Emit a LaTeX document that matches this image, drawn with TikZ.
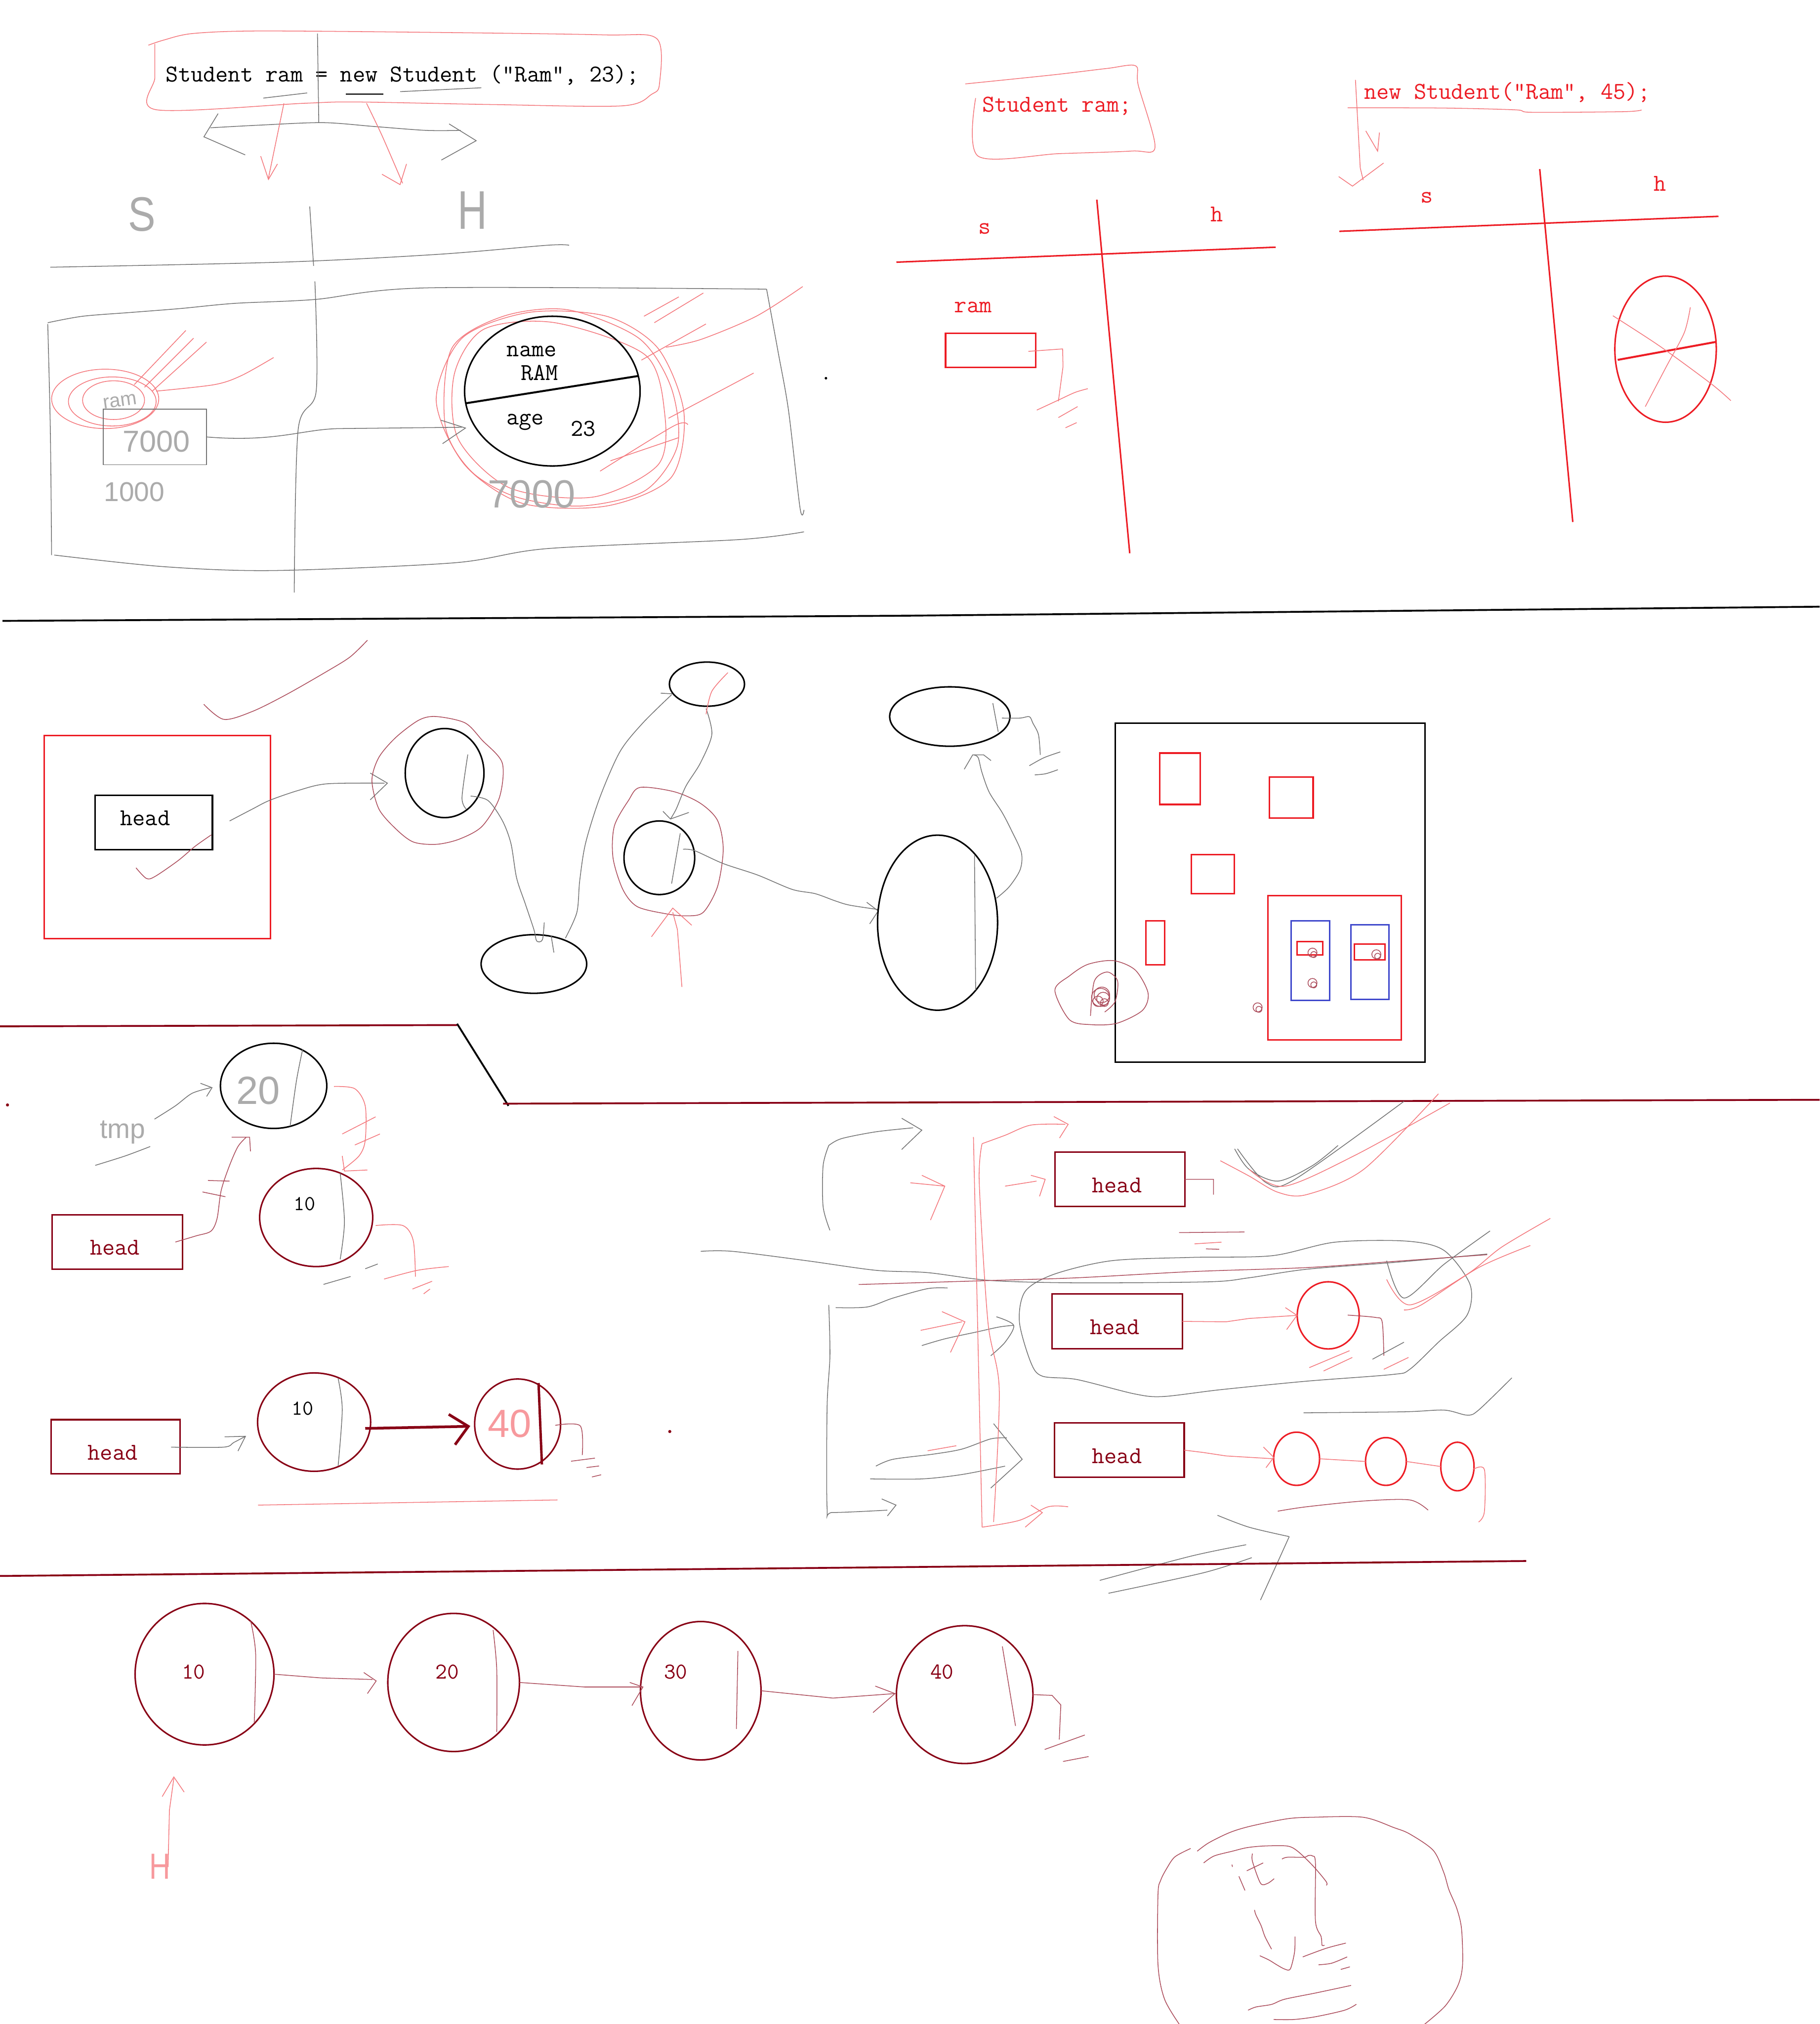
\documentclass[tikz,border=0pt]{standalone}
\usepackage{fontspec}
\setsansfont{Liberation Sans}
\usetikzlibrary{shapes.geometric,arrows.meta}
\definecolor{pred}{HTML}{ED1C24}
\definecolor{mred}{HTML}{880015}
\definecolor{pblue}{HTML}{3F48CC}
\tikzset{
  thn/.style={line width=0.5pt, draw=black!55},
  thr/.style={line width=0.5pt, draw=pred!60},
  thm/.style={line width=0.5pt, draw=mred!70},
  thk/.style={line width=1pt},
  ov/.style 2 args={ellipse, inner sep=0pt, outer sep=0pt, minimum width=#1*0.6mm, minimum height=#2*0.6mm},
  bx/.style 2 args={rectangle, inner sep=0pt, outer sep=0pt, minimum width=#1*0.3mm, minimum height=#2*0.3mm},
  code/.style={font=\ttfamily\fontsize{16pt}{18pt}\selectfont, inner sep=0pt},
  numa/.style={font=\ttfamily\fontsize{14pt}{16pt}\selectfont, inner sep=0pt},
  numb/.style={font=\ttfamily\fontsize{15pt}{17pt}\selectfont, inner sep=0pt},
  hand/.style={font=\sffamily\fontsize{#1}{#1}\selectfont, text=black!33, inner sep=0pt},
}
\begin{document}
\begin{tikzpicture}[x=0.3mm,y=-0.3mm]
\useasboundingbox (0,0) rectangle (1410,1568);
\fill[white] (0,0) rectangle (1410,1568);

% ================= Section 1 left
\node[code] (code) at (312,58) {Student ram = new Student ("Ram", 23);};
\draw[thr] plot[smooth] coordinates {(115,35)(127,31)(149,26)(199,24)(327,25)(467,27)(509,30)(511,65)(505,73)(482,82)(382,81)(276,79)(236,80)(121,85)(120,60)(120,34)};
\draw[thn] (246,26) -- (247,95);
\draw[line width=0.9pt,black!80] (268,73) -- (297,73);
\draw[thn] (310,71) -- (373,68);
\draw[thn] (204,76) -- (238,72);
\draw[thn] plot[smooth] coordinates {(163,99)(200,97)(250,95)(290,98)(330,101)(357,101)};
\draw[thn] (169,88) -- (158,106) -- (190,120);
\draw[thn] (348,96) -- (369,109) -- (342,124);
\draw[thr] (220,80) -- (208,138);
\draw[thr] (202,121) -- (208,139) -- (215,127);
\draw[thr] plot[smooth] coordinates {(284,80)(296,105)(312,142)};
\draw[thr] (296,135) -- (310,143) -- (315,127);
\node[hand=32pt,xscale=0.85] (tS) at (110,166) {S};
\node[hand=36pt,xscale=0.75] (tHH) at (366,163) {H};
\draw[thn] plot[smooth] coordinates {(39,207)(221,203)(340,197)(424,190)(441,190)};
\draw[thn] (240,160) -- (243,206);
\draw[thn] plot[smooth] coordinates {(244,218)(245,303)(231,333)(228,459)};
\draw[thn] plot[smooth] coordinates {(37,250)(64,245)(102,242)(140,239)(182,235)(244,232)(331,223)(594,224)};
\draw[thn] plot[smooth] coordinates {(594,224)(603,273)(611,318)(620,394)(623,395)};
\draw[thn] plot[smooth] coordinates {(623,412)(573,418)(424,425)(352,436)(212,442)(127,439)(42,430)};
\draw[thn] plot[smooth] coordinates {(40,430)(39,333)(37,251)};

\draw[thr] plot[smooth cycle] coordinates {(345,330)(350,270)(390,245)(440,240)(495,262)(520,300)(525,345)(500,380)(450,392)(400,385)(365,365)};
\draw[thr] plot[smooth cycle] coordinates {(338,310)(358,262)(410,242)(470,245)(510,270)(530,320)(520,370)(470,392)(405,390)(360,360)};
\draw[thr] plot[smooth cycle] coordinates {(352,290)(375,255)(430,250)(500,275)(515,320)(510,360)(460,385)(395,378)(355,340)};
\draw[thr] plot[smooth] coordinates {(516,269)(543,263)(586,245)(622,222)};
\draw[thr] (497,279) -- (547,251);
\draw[thr] (499,245) -- (526,230);
\draw[thr] (507,250) -- (545,227);
\draw[thr] plot[smooth] coordinates {(518,324)(552,306)(584,289)};
\draw[thr] plot[smooth] coordinates {(465,365)(522,330)(533,329)};
\draw[thr] (473,357) -- (526,339);

\node[draw,thk,ov={68}{58}] (obj) at (428,303) {};
\draw[line width=1.3pt] (obj.188) -- (obj.10);
\node[code] (tname) at (412,272) {name};
\node[code] (tRAM) at (418,289) {RAM};
\node[code] (tage) at (407,327) {age};
\node[code] (t23) at (452,332) {23};

\draw[thr] (81.5,309) ellipse (41.5 and 23);
\draw[thr] (87,311) ellipse (34 and 19);
\draw[thr] (88,310) ellipse (24 and 15);
\draw[thr] (104,298) -- (144,256);
\draw[thr] (112,300) -- (150,262);
\draw[thr] (118,303) -- (160,265);
\draw[thr] plot[smooth] coordinates {(121,303)(166,298)(187,291)(212,277)};
\node[hand=13pt,rotate=8] (tram) at (93,311) {ram};
\node[draw,thn,bx={80}{43}] (ptr) at (120,338.5) {};
\node[hand=20pt] (t7000a) at (121,342) {7000};
\node[hand=18pt] (t1000) at (104,381) {1000};
\node[hand=26pt] (t7000b) at (412,383) {7000};
\draw[thn] (ptr.east) .. controls (215,343) and (235,332) .. (265,332) -- (358,331);
\draw[thn] (341.6,325.5) -- (360.7,331.6) -- (342.9,343.7);
\fill[black] (640,293) circle (1);

% ================= Section 1 right
\node[code,text=pred] (sr) at (819,82) {Student ram;};
\draw[thr] plot[smooth] coordinates {(748,65)(816,58)(858,53)(880,51)(882,66)(895,114)(877,117)(821,119)(758,121)(756,76)};
\node[code,text=pred] (s1) at (763,177) {s};
\node[code,text=pred] (h1) at (943,166) {h};
\draw[pred,thk] (694.6,203.1) -- (988.5,191.5);
\draw[pred,thk] (849.9,154.7) -- (875.4,428.6);
\node[code,text=pred] (ramlbl) at (754,238) {ram};
\node[draw=pred,thk,bx={69.8}{26.5}] (ramBox) at (767.6,271.5) {};
\draw[thr] (796.9,272.2) -- (823.4,270.3) -- (823.7,284) -- (820.1,310.9);
\draw[thr] plot[smooth] coordinates {(803.4,317.7)(820,310)(833,304)(842.9,301.1)};
\draw[thr] (820.1,323.5) -- (835,315);
\draw[thr] (825.6,331.4) -- (834.3,327.4);

\node[code,text=pred] (ns) at (1168,71.6) {new Student("Ram", 45);};
\draw[thr] plot[smooth] coordinates {(1044.3,83.5)(1118.6,83.7)(1174.4,85.1)(1187,87)(1258.2,86.5)(1272,85.2)};
\draw[thr] (1050.3,61.9) -- (1054,130) -- (1056.3,139.5);
\draw[thr] (1037.3,136.8) -- (1048,144.2) -- (1072.1,126.3);
\draw[thr] (1058.3,101.4) -- (1067.5,117.1) -- (1068.9,102.7);
\node[code,text=pred] (s2) at (1105.6,153.1) {s};
\node[code,text=pred] (h2) at (1286.1,142.1) {h};
\draw[pred,thk] (1037.8,179.2) -- (1331.6,167.6);
\draw[pred,thk] (1193.1,131) -- (1218.7,404.4);
\node[draw=pred,thk,ov={39.3}{56.6}] (robj) at (1290.6,270.5) {};
\draw[pred,line width=1.3pt] (1253.5,278.8) -- (1330,264.8);
\draw[thr] plot[smooth] coordinates {(1249.8,244.6)(1286.3,268.3)(1325.8,297.2)(1341.2,310.4)};
\draw[thr] plot[smooth] coordinates {(1309.8,238)(1305.1,257.7)(1291.2,284)(1274.9,315)};

\draw[black,line width=1.2pt] (2,481) -- (700,477) -- (1410,470);

% ================= Section 2
\node[draw=pred,thk,bx={175.3}{157.5}] (frameL) at (121.85,648.55) {};
\node[draw,thk,bx={90.8}{42}] (headA) at (119.2,637.1) {};
\node[code] (headAt) at (112.5,633.8) {head};
\draw[thm] plot[smooth] coordinates {(157.9,545.6)(173.5,557.3)(195.7,551.1)(222.4,537.8)(253.5,520)(271.3,508.9)(284.7,496)};
\draw[thm] plot[smooth] coordinates {(105.4,672.3)(113.4,680.5)(120.1,679)(137.9,666.8)(151.2,655.6)(163.7,646.8)};
\node[draw,thk,ov={30.5}{34.5}] (eA) at (344.5,598.9) {};
\draw[thn] plot[smooth] coordinates {(177.9,636)(195.7,626.7)(209,620)(231.3,612.3)(253.5,607.2)(298,606.7)};
\draw[thn] (286.9,598.9) -- (300.2,606.7) -- (286.9,619.6);
\draw[thm] plot[smooth cycle] coordinates {(338,555.1)(360.3,560)(373.6,573.4)(389.2,591.1)(387,617.8)(373.6,640.1)(355.8,650.1)(338,654.1)(320.3,652.3)(306.9,642.3)(293.6,626.7)(288.2,604.5)(293.6,586.7)(306.9,571.1)(324.7,557.8)};
\draw[thn] plot[smooth] coordinates {(362.5,584.5)(358,617.8)(361.2,626.7)};
\node[draw,thk,ov={40.9}{22.7}] (eB) at (413.7,746.8) {};
\node[draw,thk,ov={29.1}{17.1}] (eC) at (547.8,530) {};
\node[draw,thk,ov={27.4}{28.5}] (eD) at (510.9,664.5) {};
\draw[thm] plot[smooth cycle] coordinates {(496,610)(522.6,613.4)(542.7,622.3)(556,635.6)(560.4,657.9)(556,686.8)(544.9,706.8)(531.5,709.5)(516,707.9)(493.7,702.3)(482.6,689)(475,664.5)(476,640.1)(487,620.1)};
\draw[thn] plot[smooth] coordinates {(364.7,616.7)(378.1,620.1)(389.2,635.6)(395.9,653.4)(400.3,680.1)(407,700.1)(413.7,720.1)(415.9,729)(420.3,728)(421.7,714.6)};
\draw[thn] (427,724.6) -- (429.2,737.9);
\draw[thn] plot[smooth] coordinates {(438.1,726.8)(447,706.8)(449.2,682.3)(453.7,653.4)(464.8,617.8)(480.4,582.3)(498.2,560)(520.4,538.2)};
\draw[thn] (512,537) -- (521,537.5);
\draw[thn] plot[smooth] coordinates {(547.1,548.9)(551.6,568.9)(542.7,591.1)(531.5,609)(524,626.7)(519.5,634.5)};
\draw[thn] (513.7,628.5) -- (519.5,634.5) -- (533.8,629.4);
\draw[thn] plot[smooth] coordinates {(529.3,657.9)(538.2,659)(560.4,669)(587.1,677.9)(613.8,689)(631.6,692.3)(647.2,697.9)(658.3,701.2)(680.5,704.6)};
\draw[thn] (671.6,699) -- (680.5,705.7) -- (673.9,715.7);
\draw[thr] (528.4,764.6) -- (524.9,720.1) -- (521.3,706.8);
\draw[thr] (504.8,725.7) -- (521.3,703.5) -- (536,716.8);
\draw[thn] (527.1,645.6) -- (520.4,684.6);
\draw[thr] plot[smooth] coordinates {(564,521.1)(551.6,535.5)(547.1,553.3)};
\node[draw,thk,ov={46.6}{23}] (eF) at (736,555.1) {};
\node[draw,thk,ov={46.5}{67.8}] (eE) at (726.5,714.8) {};
\draw[thn] (755.1,662.6) -- (756,767.1);
\draw[thn] (769.3,544.7) -- (773.5,567);
\draw[thn] plot[smooth] coordinates {(776.4,556.3)(790.5,556.3)(797.6,555.2)(800.4,560.3)(804.7,569.2)(806.1,584.8)};
\draw[thn] plot[smooth] coordinates {(797.6,593.2)(808.9,587)(821.6,582.5)};
\draw[thn] plot[smooth] coordinates {(801.8,600.3)(810.3,599.4)(819.7,596.3)};
\draw[thn] plot[smooth] coordinates {(772.1,695.9)(782,687)(790.5,673.7)(791.4,660.4)(783.4,642.6)(776.4,629.2)(766.5,613.7)(760.8,598.1)(758,587)(754.6,584.8)};
\draw[thn] (747.2,595.9) -- (753.7,584.8) -- (762.2,584.8) -- (767.9,589.2);

\node[draw,thk,bx={240}{262.4}] (mem) at (984.1,691.5) {};
\node[draw=pred,thk,bx={31.4}{39.8}] (r1) at (914.3,603.3) {};
\node[draw=pred,thk,bx={34}{31.8}] (r2) at (1000.5,617.8) {};
\node[draw=pred,thk,bx={33.1}{30.3}] (r3) at (939.85,677.25) {};
\node[draw=pred,thk,bx={14.7}{34}] (r4) at (895.25,730.5) {};
\node[draw=pred,thk,bx={103.3}{111.7}] (r5) at (1034.05,749.75) {};
\node[draw=pblue,thk,bx={30.2}{61.6}] (b1) at (1015.4,744.3) {};
\node[draw=pblue,thk,bx={29.4}{58}] (b2) at (1061.4,745.4) {};
\node[draw=pred,thk,bx={19.8}{10.2}] (sb1) at (1015,734.6) {};
\node[draw=pred,thk,bx={23.8}{12.2}] (sb2) at (1061.4,737.4) {};
\foreach \cx/\cy in {1017/738, 1017/761.5, 1066.5/739.3, 974.5/780.4} {
  \draw[thm] (\cx,\cy) circle (3.5);
  \draw[thm] (\cx+1,\cy+1.5) circle (2.3);
}
\foreach \r/\dx/\dy in {7/0/0, 5/2/1, 4/-2/3, 6/1/-2, 3/3/4} {
  \draw[thm] (852.8+\dx,772.7+\dy) circle (\r);
}
\draw[thm] plot[smooth] coordinates {(845,787)(848,760)(858,753)(866,760)(864,776)(856,784)};
\draw[thm] plot[smooth cycle] coordinates {(817.4,767.1)(828.7,756)(842.9,747.1)(862.7,744.2)(879.7,751.5)(889.6,769.3)(885.3,782.7)(865.5,792.7)(845.7,793.8)(828.7,790)};

% divider 2
\draw[mred,line width=1.2pt] (0,795.1) -- (354.2,794.1);
\draw[black,line width=1.2pt] (354.2,793.1) -- (394,856.7);
\draw[mred,line width=1.2pt] (389.8,855) -- (1410,852);
\fill[mred] (5.8,856) circle (1.2);

% ================= Section 3 left
\node[draw,thk,ov={41.2}{33}] (n20) at (212,841.2) {};
\draw[thn] plot[smooth] coordinates {(234.5,813)(229.7,837.3)(224.8,872.5)};
\node[hand=26pt] (t20) at (200,845) {20};
\node[hand=18pt] (ttmp) at (95,877) {tmp};
\draw[thn] plot[smooth] coordinates {(73.8,902.8)(97,895.5)(116.4,888.2)};
\draw[thn] plot[smooth] coordinates {(119.7,867)(135.9,856.7)(148.8,847)(163.4,842.6)};
\draw[thn] (155.3,839.2) -- (164.3,842.6) -- (160.1,849.4);
\node[draw=mred,thk,bx={101}{42.2}] (hd1) at (90.9,962.2) {};
\node[code,text=mred] (hd1t) at (89,966.6) {head};
\node[draw=mred,thk,ov={43.8}{38}] (n10a) at (245,943.2) {};
\node[numa] (t10a) at (236.1,932.6) {10};
\draw[thn] plot[smooth] coordinates {(263.6,908.9)(266.9,946.5)(263.6,975.6)};
\draw[thm] plot[smooth] coordinates {(135.9,962.2)(152,957.4)(163.4,953.8)(168.2,944)(171.4,922.2)(177.9,902.8)(184.4,888.2)(190.8,881)};
\draw[thm] (179.5,881) -- (193.4,881) -- (194.1,891.9);
\draw[thm] (161.1,914.5) -- (177.9,915);
\draw[thm] (156.9,923.4) -- (174.7,927.1);
\draw[thr] plot[smooth] coordinates {(258.8,841.7)(274.9,843.4)(283,856.7)(283,883.4)(278.2,895.5)(265.2,906.4)};
\draw[thr] (265.2,895.5) -- (266.9,907.2) -- (284.7,906.4);
\draw[thr] (265.2,878.5) -- (291.1,865.2);
\draw[thr] (275,887) -- (294.4,878.5);
\draw[thr] plot[smooth] coordinates {(291.1,949.4)(312.1,949.4)(320.2,961)(321.9,989)};
\draw[thr] plot[smooth] coordinates {(297.6,990.9)(323.5,984.1)(347.7,981.2)};
\draw[thr] (319.6,998.6) -- (334.8,992.6);
\draw[thr] (328.3,1002.3) -- (333.2,998.6);
\draw[thn] (250.7,995) -- (271.7,988.9);
\draw[thn] (283,982.9) -- (292.7,979.2);

\node[draw=mred,thk,bx={100.2}{42}] (hd2) at (89.6,1120.8) {};
\node[code,text=mred] (hd2t) at (87.3,1125.3) {head};
\draw[thn] plot[smooth] coordinates {(132.6,1121.1)(173.1,1121.1)(181.1,1117.5)(190.2,1112.7)};
\draw[thn] (174,1113.1) -- (190.2,1112.7) -- (184.4,1124.1);
\node[draw=mred,thk,ov={43.8}{38.1}] (n10b) at (243.4,1101.7) {};
\node[numa] (t10b) at (234.5,1091.3) {10};
\draw[thn] plot[smooth] coordinates {(262,1067.8)(265.2,1092)(262,1135.7)};
\node[draw=mred,thk,ov={33.3}{34.9}] (n40) at (401.1,1103.2) {};
\draw[mred,line width=1.8pt] (283,1106.6) -- (362.3,1105);
\draw[mred,line width=1.8pt] (347.7,1095.7) -- (362.9,1105) -- (352.6,1119.2);
\draw[mred,line width=1.6pt] (417.3,1071.4) -- (419.9,1134.5);
\node[hand=26pt,text=pred!45] (t40) at (395,1103) {40};
\draw[thm] plot[smooth] coordinates {(430.2,1104.2)(449.6,1104.6)(451.2,1127.2)};
\draw[thm] (442.5,1132) -- (461,1129.6);
\draw[thm] (454.5,1136.9) -- (464.2,1135.7);
\draw[thm] (458.7,1144.2) -- (465.8,1142.5);
\draw[thr] (200,1166) -- (432,1162);
\fill[mred] (519,1109) circle (1.2);

% ================= Section 3 right
\node[draw=mred,thk,bx={100.5}{42.1}] (H1b) at (867.75,913.65) {};
\node[code,text=mred] (H1t) at (865.5,918.1) {head};
\node[draw=mred,thk,bx={100.9}{42.3}] (H2b) at (865.75,1023.65) {};
\node[code,text=mred] (H2t) at (863.8,1028) {head};
\node[draw=mred,thk,bx={100.6}{42}] (H3b) at (867.3,1123.4) {};
\node[code,text=mred] (H3t) at (865.5,1127.9) {head};
\node[draw=pred,thk,ov={24}{26}] (G) at (1029.2,1019) {};
\node[draw=pred,thk,ov={17.8}{20.6}] (e1) at (1004.7,1130.1) {};
\node[draw=pred,thk,ov={15.8}{18.5}] (e2) at (1073.9,1132.2) {};
\node[draw=pred,thk,ov={12.9}{18.8}] (e3) at (1129.3,1136.1) {};
\draw[thr] (H2b.east) -- (950,1024) -- (967.8,1021.4) -- (G.west);
\draw[thr] (996,1013) -- (1005,1019) -- (997,1030);
\draw[thr] (H3b.east) -- (932.2,1125.2) -- (950,1127.9) -- (e1.west);
\draw[thr] (979,1121) -- (987,1129) -- (981,1137);
\draw[thr] (e1.east) -- (e2.west);
\draw[thr] (e2.east) -- (e3.west);
\draw[thr] plot[smooth] coordinates {(1141.3,1138.4)(1150.2,1138.4)(1150.2,1171.2)(1145.7,1179.1)};
\draw[thm] plot[smooth] coordinates {(990.1,1170.7)(1012.3,1167.3)(1056.8,1162.8)(1092.4,1162)(1106.6,1169.9)};
\draw[thm] (H1b.east) -- (940.3,913.6) -- (940.3,925.5);
\draw[thm] (913.6,954.9) -- (964.3,954.4);
\draw[thr] (925.6,963.6) -- (946.5,962.3);
\draw[thm] (934.5,967.5) -- (944.7,967.8);
\draw[thm] plot[smooth] coordinates {(1044.3,1018.8)(1065.7,1020.6)(1071,1024)(1072.3,1050.3)};
\draw[thr] (1014.5,1059.5) -- (1045.7,1046.4);
\draw[thr] (1025.6,1062.1) -- (1047.9,1051.6);
\draw[thn] (1063.5,1053) -- (1087.9,1039.8);
\draw[thr] (1072.3,1060.8) -- (1091.4,1051.6);
\draw[thn] plot[smooth cycle] coordinates {(807.7,1066.1)(798.8,1055.6)(789.9,1024)(794.4,1000.4)(816.6,987.2)(861.1,976.7)(923.4,974.1)(985.6,972.8)(1034.5,962.3)(1090.1,961.5)(1119.1,968.8)(1139.1,995.1)(1136.8,1018.8)(1114.6,1039.8)(1092.4,1060.8)(1079,1064.8)(1012.3,1070)(945.6,1076.6)(901.1,1081.9)(878.9,1079.8)(834.4,1068.7)};
\draw[thn] plot[smooth] coordinates {(543,969.4)(567.5,969.4)(625.3,976.7)(678.7,984.1)(718.8,985.9)(767.7,992)(834.4,993.8)(936.7,993)(967.8,989.9)(1012.3,983.3)(1079,978.1)(1152.4,971.5)};
\draw[thm] plot[smooth] coordinates {(665.4,995.1)(767.7,992)(834.4,989.9)(923.4,985.1)(1012.3,982)(1079,977.3)(1152.4,972)};
\draw[thn] plot[smooth] coordinates {(1154.6,953.6)(1119.1,979.3)(1087.9,1005.6)(1074.5,976.7)};
\draw[thr] plot[smooth] coordinates {(1201.3,943.9)(1163.5,966.2)(1136.8,987.2)(1092.4,1010.9)(1074.5,991.2)};
\draw[thr] plot[smooth] coordinates {(1185.8,964.9)(1145.7,982)(1101.3,1010.9)(1087.9,1014.8)};
\draw[thn] plot[smooth] coordinates {(956.7,890)(967.8,905.8)(990.1,915)(1016.8,903.1)(1036.8,887.4)};
\draw[thr] plot[smooth] coordinates {(945.6,899.2)(967.8,911)(990.1,923.6)(1012.3,925.5)(1056.8,905.8)(1114.6,847.4)};
\draw[thn] plot[smooth] coordinates {(958.9,890)(981.2,916.3)(1003.4,913.6)(1087.9,853.2)};
\draw[thr] plot[smooth] coordinates {(967.8,905.8)(995,919)(1050,895)(1123.5,854.5)};

\draw[thn] plot[smooth] coordinates {(642.2,887.4)(652,882.1)(678.7,876.8)(707.6,873.7)};
\draw[thn] (698.7,866.3) -- (714.3,875.5) -- (698.7,890.5);
\draw[thn] plot[smooth] coordinates {(642.2,887.4)(637.8,903.1)(637.8,934.7)(643.1,953.1)};
\draw[thn] plot[smooth] coordinates {(642.2,1010.9)(643.1,1050.3)(640.9,1089.7)(640.9,1168.6)(645.4,1171.7)(687.6,1169.9)};
\draw[thn] (683.2,1161.2) -- (694.3,1166) -- (687.6,1174.4);
\draw[thn] plot[smooth] coordinates {(647.6,1013)(672,1012.5)(692,1005.6)(718.8,998.3)(734.3,997.8)};
\draw[thn] plot[smooth] coordinates {(714.3,1042.4)(732.1,1037.2)(756.6,1031.9)(774.3,1028)(785.5,1026.7)};
\draw[thn] plot[smooth] coordinates {(772.1,1020.1)(785.5,1026.7)(778.8,1039.8)(767.7,1050.3)};
\draw[thn] plot[smooth] coordinates {(678.7,1135.8)(692,1130.5)(723.2,1126.5)(745.4,1122.6)(767.7,1114.7)(780.1,1113.9)};
\draw[thn] plot[smooth] coordinates {(674.3,1145.7)(714.3,1145.7)(745.4,1142.3)(778.8,1135.8)};
\draw[thn] (769.9,1102.9) -- (792.1,1130.5) -- (767.7,1152.8);
\draw[thn] plot[smooth] coordinates {(943.4,1173.9)(967.8,1183.1)(999,1190.4)};
\draw[thn] (999,1190.4) -- (976.7,1239.6);
\draw[thn] plot[smooth] coordinates {(852.2,1224.3)(923.4,1205.4)(965.6,1196.7)};
\draw[thn] plot[smooth] coordinates {(858.9,1234.3)(932.2,1218.5)(970,1206.7)};
\draw[thn] plot[smooth] coordinates {(1010.1,1094.5)(1087.9,1093.7)(1119.1,1092.4)(1136.8,1096.3)(1145.7,1092.4)(1171.5,1067.4)};

\draw[thr] (754.3,880.8) -- (761,1183.1);
\draw[thr] plot[smooth] coordinates {(761,886)(758.8,916.3)(765.5,1024)(774.3,1076.6)(769.9,1179.1)};
\draw[thr] plot[smooth] coordinates {(761,886)(778.8,879.5)(798.8,871.6)(825.5,871)};
\draw[thr] (816.6,865) -- (827.7,871) -- (821,881.6);
\draw[thr] plot[smooth] coordinates {(761,1183.1)(789.9,1177.8)(812.2,1167.3)(827.7,1167.3)};
\draw[thr] (798.8,1166) -- (807.7,1171.8) -- (794.4,1183.1);
\draw[thr] (705.4,916.3) -- (732.1,918.9);
\draw[thr] (714.3,910.5) -- (732.1,918.9) -- (721,945.2);
\draw[thr] (778.8,918.9) -- (803.2,915);
\draw[thr] (798.8,910.5) -- (809.9,913.6) -- (805.5,926.8);
\draw[thr] (713.4,1030.6) -- (745.4,1024);
\draw[thr] (729.9,1016.1) -- (747.7,1024) -- (736.5,1047.7);
\draw[thr] (718.8,1123.9) -- (741,1120);

% divider 3
\draw[mred,line width=1.2pt] (0,1220.9) -- (1182.6,1209.3);

% ================= Section 4
\node[draw=mred,thk,ov={53.8}{54.8}] (c10) at (158.5,1297) {};
\node[draw=mred,thk,ov={51}{53.5}] (c20) at (351.5,1303.4) {};
\node[draw=mred,thk,ov={46.7}{53.6}] (c30) at (543,1309.8) {};
\node[draw=mred,thk,ov={52.9}{53.4}] (c40) at (747.5,1312.8) {};
\node[numb,text=mred] (l10) at (150,1295.3) {10};
\node[numb,text=mred] (l20) at (346.5,1295.3) {20};
\node[numb,text=mred] (l30) at (523.6,1295.3) {30};
\node[numb,text=mred] (l40) at (730,1295.3) {40};
\draw[thm] plot[smooth] coordinates {(194.2,1255.7)(198.1,1281.3)(197,1334.8)};
\draw[thm] plot[smooth] coordinates {(382.1,1262.7)(384.9,1293)(384.9,1341.8)};
\draw[thm] (571.8,1279) -- (570.6,1339.4);
\draw[thm] (776.7,1275.5) -- (786.9,1337.1);
\draw[thm] (c10.east) -- (249.1,1299.9) -- (288.7,1301.1);
\draw[thm] (281.9,1295.7) -- (291.5,1302.2) -- (284.7,1312);
\draw[thm] (c20.east) -- (452.9,1306.9) -- (498.2,1306.9);
\draw[thm] (488,1303.4) -- (498.2,1306.9) -- (489.7,1321.3);
\draw[thm] (c30.east) -- (645.4,1315.5) -- (693.5,1312);
\draw[thm] (678.2,1306.2) -- (693.5,1312) -- (676.5,1326.7);
\draw[thm] (c40.east) -- (815.2,1313.4) -- (822,1320.8) -- (820.8,1347.6);
\draw[thm] (809.5,1355.3) -- (840.6,1344.1);
\draw[thm] (823.7,1364.6) -- (843.5,1360.8);
\draw[thr] (130.2,1446.4) -- (131.3,1402.2) -- (134.7,1377.8);
\draw[thr] (125.7,1391.8) -- (134.7,1376.6) -- (142.7,1388.3);
\node[hand=24pt,text=pred!45,xscale=0.8] (tH) at (124,1446) {H};

% bottom loop
\draw[thm] plot[smooth] coordinates {(914.5,1569.2)(902.4,1548.8)(897.3,1522.1)(897.3,1467.5)(899.4,1456.6)(904.4,1446.9)(910.5,1438.4)(922.6,1432)};
\draw[thm] plot[smooth] coordinates {(927.7,1434.1)(936.8,1427.5)(953,1419.6)(969.1,1414.7)(997.4,1409)(1017.6,1407.8)(1056.1,1407.8)(1080.3,1415.9)(1092.4,1420.8)(1110.6,1433.5)(1118.7,1450.5)(1122.7,1463.9)(1128.8,1478.4)(1132.5,1494.2)(1133.3,1522.1)(1129.8,1537.9)(1119.7,1554.2)(1102.6,1569.2)};
\draw[thm] plot[smooth] coordinates {(932.7,1443.2)(940.8,1437.8)(955,1434.1)(966.1,1431.4)(979.2,1430.1)(997.4,1430.1)(1005.5,1434.1)(1017.6,1445.7)(1027.7,1457.8)(1027.7,1460.5)};
\draw[thm] plot[smooth] coordinates {(970.5,1436)(970.5,1442)(976.8,1459)(982.3,1459)(987.3,1455.4)};
\draw[thm] (966.1,1449.3) -- (978.8,1443.2);
\draw[thm] (954.6,1444.5) -- (955,1446.3);
\draw[thm] (960,1453.6) -- (964.7,1464.5);
\draw[thm] plot[smooth] coordinates {(993.4,1440.2)(997.4,1438.8)(1010.6,1438.8)(1013.6,1437.5)(1017,1437.8)(1019.3,1443.2)(1019.3,1488.1)(1023.7,1500.3)(1024.4,1506.9)(1026.3,1506.9)};
\draw[thm] plot[smooth] coordinates {(972.1,1479.6)(973.1,1483.3)(977.2,1491.8)(980.2,1500.3)(985.3,1510)};
\draw[thm] plot[smooth] coordinates {(976.2,1515.1)(983.3,1518.4)(989.3,1522.1)(995.4,1525.4)(999.8,1525.4)(1003.1,1512.4)(1003.5,1500.3)};
\draw[thm] plot[smooth] coordinates {(1009.5,1516)(1027.7,1509.3)(1042.9,1505.3)};
\draw[thm] plot[smooth] coordinates {(1021.7,1522.1)(1031.8,1520.9)(1043.9,1516)};
\draw[thm] (1038.9,1525.7) -- (1046,1523.7);
\draw[thm] plot[smooth] coordinates {(967.1,1557.3)(973.2,1554.8)(985.3,1552.8)(995.4,1548.8)(1019.7,1543.9)(1046.9,1538.1)};
\draw[thm] plot[smooth] coordinates {(986.9,1564.5)(1002.5,1564.5)(1019.7,1562.3)(1041.9,1557.3)(1051,1552.7)};
\end{tikzpicture}
\end{document}
